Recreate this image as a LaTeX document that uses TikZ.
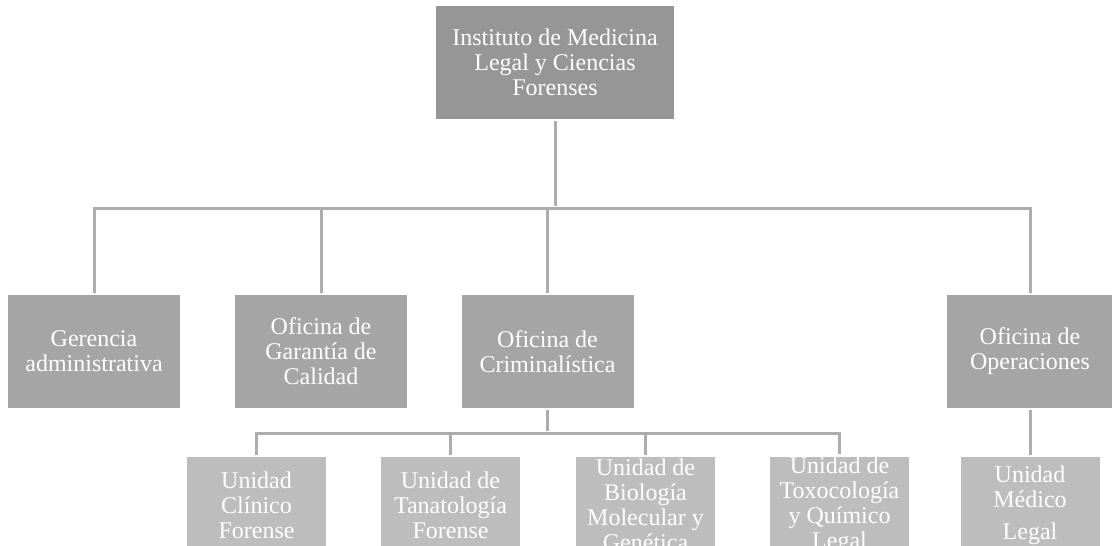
\documentclass[tikz,border=0pt]{standalone}
\usepackage{fontspec}
\setmainfont{Liberation Serif}
\usetikzlibrary{positioning}
\definecolor{grisjefe}{HTML}{969696}
\definecolor{grisoficina}{HTML}{A5A5A5}
\definecolor{grisunidad}{HTML}{BDBDBD}
\definecolor{grislinea}{HTML}{ADADAD}
\setlength{\lineskiplimit}{-40pt}
\tikzset{
	caja/.style={fill=#1, text=white, inner sep=0pt, align=center,
		font=\fontsize{24}{25}\selectfont},
	jefe/.style={caja=grisjefe, minimum width=238pt, minimum height=113pt},
	oficina/.style={caja=grisoficina, minimum width=172pt, minimum height=113pt},
	unidad/.style={caja=grisunidad, minimum width=139pt, minimum height=96pt},
	linea/.style={draw=grislinea, line width=3pt, shorten <=2pt, shorten >=2pt}
}

\begin{document}
\begin{tikzpicture}[x=1pt, y=-1pt]
	\useasboundingbox (0,0) rectangle (1112,546);
	\clip (0,0) rectangle (1112,546);
	\node[jefe] (inst) at (555,62.5) {Instituto de Medicina\\Legal y Ciencias\\Forenses};
	\node[oficina] (ger) at (94,351.5) {Gerencia\\administrativa};
	\node[oficina] (gar) at (321,351.5) {Oficina de\\Garantía de\\Calidad};
	\node[oficina] (crim) at (547.5,351.5) {Oficina de\\Criminalística};
	\node[oficina, minimum width=166pt] (ops) at (1030,351.5) {Oficina de\\Operaciones};
	\node[unidad] (clin) at (256.5,505) {Unidad\\Clínico\\Forense};
	\node[unidad] (tana) at (450.5,505) {Unidad de\\Tanatología\\Forense};
	\node[unidad] (bio) at (645.5,505) {Unidad de\\Biología\\Molecular y\\Genética};
	\node[unidad] (toxi) at (839.5,505) {Unidad de\\Toxocología\\y Químico\\Legal};
	\node[unidad] (medleg) at (1030,505) {Unidad\\Médico\\[7pt]Legal};
	% conectores
	\coordinate (bus1) at (555,208);
	\coordinate (bus2) at (547.5,433);
	\draw[linea] (inst.south) -- (bus1);
	\draw[linea] (ger.north) |- (bus1) -| (ops.north);
	\draw[linea] (gar.north) -- (gar.north |- bus1);
	\draw[linea] (crim.north) -- (crim.north |- bus1);
	\draw[linea] (crim.south) -- (bus2);
	\draw[linea] (clin.north) |- (bus2) -| (toxi.north);
	\draw[linea] (tana.north) -- (tana.north |- bus2);
	\draw[linea] (bio.north) -- (bio.north |- bus2);
	\draw[linea] (ops.south) -- (medleg.north);
\end{tikzpicture}
\end{document}
